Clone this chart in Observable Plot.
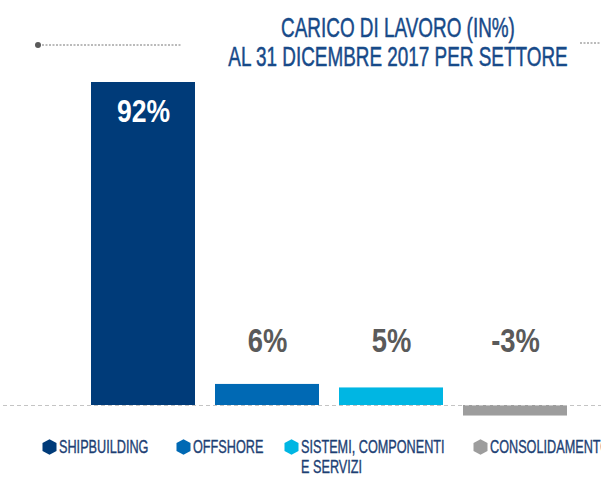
<!DOCTYPE html>
<html>
<head>
<meta charset="utf-8">
<script src="https://cdn.jsdelivr.net/npm/d3@7"></script>
<script src="https://cdn.jsdelivr.net/npm/@observablehq/plot@0.6"></script>
<style>
  html, body { margin: 0; padding: 0; background: #fff; }
  #wrap { position: relative; width: 601px; height: 485px; overflow: hidden; font-family: "Liberation Sans", Arial, sans-serif; }
  #chart { position: absolute; left: 0; top: 0; }
  .title { position: absolute; left: 398px; color: #174a89; font-size: 28px; line-height: 28px; white-space: nowrap; transform: translateX(-50%) scaleX(0.675); transform-origin: 50% 0; -webkit-text-stroke: 0.5px #174a89; }
  .leg { position: absolute; top: 437px; color: #1d3f74; font-size: 19px; line-height: 20px; white-space: nowrap; }
  .leg svg { position: absolute; left: 0; top: 2px; }
  .leg span { position: absolute; display: inline-block; transform: scaleX(0.667); transform-origin: 0 0; -webkit-text-stroke: 0.4px #1d3f74; }
</style>
</head>
<body>
<div id="wrap">
  <div id="chart"></div>
</div>
<script>
const sectors = ["SHIPBUILDING", "OFFSHORE", "SISTEMI, COMPONENTI E SERVIZI", "CONSOLIDAMENTO"];
const legendLabels = [["SHIPBUILDING"], ["OFFSHORE"], ["SISTEMI, COMPONENTI", "E SERVIZI"], ["CONSOLIDAMENTO"]];
const values = [92, 6, 5, -3];
const labels = ["92%", "6%", "5%", "-3%"];
const colors = ["#003b79", "#0069b4", "#00b6e3", "#9d9d9d"];
const titleLines = ["CARICO DI LAVORO (IN%)", "AL 31 DICEMBRE 2017 PER SETTORE"];

const data = sectors.map((s, i) => ({sector: s, value: values[i], label: labels[i]}));

const plot = Plot.plot({
  width: 601,
  height: 485,
  margin: 0,
  x: {domain: sectors, range: [91, 568], padding: 0.16, paddingOuter: 0, axis: null},
  y: {domain: [0, 92], range: [405, 82], axis: null},
  color: {domain: sectors, range: colors},
  style: {fontFamily: "'Liberation Sans', Arial, sans-serif"},
  marks: [
    Plot.barY(data, {x: "sector", y: "value", fill: "sector"}),
    Plot.ruleY([0], {stroke: "#c4c4c4", strokeWidth: 1.2, strokeDasharray: "4,3", insetLeft: -53, insetRight: -33}),
    Plot.text(data.filter(d => d.value > 50), {x: "sector", y: "value", text: "label", dy: 29, fill: "white", fontSize: 32, fontWeight: "bold"}),
    Plot.text(data.filter(d => d.value <= 50), {x: "sector", y: () => 0, text: "label", dy: -64, fill: "#5a5a5a", fontSize: 33, fontWeight: "bold"})
  ]
});

// condense the value labels horizontally
plot.querySelectorAll("g[aria-label='text'] text").forEach(t => {
  const tr = t.getAttribute("transform");
  if (tr) {
    t.setAttribute("transform", tr + " scale(0.83,1)");
  } else {
    const x = +t.getAttribute("x") || 0;
    t.setAttribute("transform", `translate(${x},0) scale(0.83,1) translate(${-x},0)`);
  }
});
document.getElementById("chart").appendChild(plot);

const wrap = document.getElementById("wrap");

// decorative dotted line with dot
const ns = "http://www.w3.org/2000/svg";
const deco = document.createElementNS(ns, "svg");
deco.setAttribute("width", 601); deco.setAttribute("height", 60);
deco.style.position = "absolute"; deco.style.left = "0"; deco.style.top = "0";
deco.innerHTML = `<circle cx="38" cy="45" r="3" fill="#5a5a5a"/>
<line x1="42" y1="45" x2="182" y2="45" stroke="#777" stroke-width="1" stroke-dasharray="2,1.5"/>
<line x1="580" y1="43" x2="601" y2="43" stroke="#777" stroke-width="1" stroke-dasharray="2,1.5"/>`;
wrap.appendChild(deco);

// title
titleLines.forEach((t, i) => {
  const d = document.createElement("div");
  d.className = "title";
  d.textContent = t;
  d.style.top = (14 + i * 29) + "px";
  wrap.appendChild(d);
});

// legend
const legX = [42, 176, 284, 473];
sectors.forEach((s, i) => {
  const item = document.createElement("div");
  item.className = "leg";
  item.style.left = legX[i] + "px";
  item.innerHTML = `<svg width="15" height="16" viewBox="0 0 15 16"><polygon points="7.5,0.3 14.5,4.1 14.5,11.9 7.5,15.7 0.5,11.9 0.5,4.1" fill="${colors[i]}"/></svg>` +
    legendLabels[i].map((l, j) => `<span style="left:17px;top:${j * 20}px">${l}</span>`).join("");
  wrap.appendChild(item);
});
</script>
</body>
</html>
